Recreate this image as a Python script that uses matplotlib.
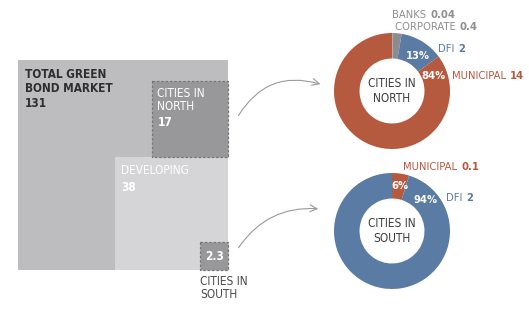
import numpy as np
import matplotlib
matplotlib.use("Agg")
import matplotlib.pyplot as plt
from matplotlib.patches import Rectangle, FancyArrowPatch

plt.rcParams['font.family'] = ['DejaVu Sans']
plt.rcParams['font.stretch'] = 'condensed'

# ---- data ----
market_labels = ["TOTAL GREEN\nBOND MARKET", "DEVELOPING", "CITIES IN\nNORTH", "CITIES IN\nSOUTH"]
market_values = [131, 38, 17, 2.3]

north_labels = ["BANKS", "CORPORATE", "DFI", "MUNICIPAL"]
north_values = [0.04, 0.4, 2, 14]
north_pct = ["", "", "13%", "84%"]

south_labels = ["MUNICIPAL", "DFI"]
south_values = [0.1, 2]
south_pct = ["6%", "94%"]

W, H = 529, 313
fig = plt.figure(figsize=(W / 100, H / 100), dpi=100)

RED = '#b65a3f'
BLUE = '#5a7ba4'
GRAY1 = '#a3a3a5'
GRAY2 = '#8c8c8e'
DARK = '#3c3c3e'


# ---- donuts (drawn first, overlay axes on top) ----
def donut(cx, cy, R, values, colors, center_text):
    a = fig.add_axes([(cx - R) / W, (H - cy - R) / H, 2 * R / W, 2 * R / H])
    a.pie(values, colors=colors, startangle=90, counterclock=False,
          radius=1, wedgeprops=dict(width=0.44, edgecolor='none'))
    a.set_xlim(-1, 1)
    a.set_ylim(-1, 1)
    a.set_aspect('equal')
    a.axis('off')
    a.text(0, 0, center_text, ha='center', va='center', fontsize=8.5, color=DARK, linespacing=1.2)
    return a


R = 58
donut(392, 91, R, north_values, [GRAY1, GRAY2, BLUE, RED], "CITIES IN\nNORTH")
donut(392, 231, R, south_values, [RED, BLUE], "CITIES IN\nSOUTH")

ax = fig.add_axes([0, 0, 1, 1])
ax.set_xlim(0, W)
ax.set_ylim(H, 0)
ax.axis('off')
ax.patch.set_alpha(0)

# ---- nested squares (area proportional) ----
total_side = 210.0
right, bottom = 228.0, 270.0
side = [total_side * np.sqrt(v / market_values[0]) for v in market_values]
s_tot, s_dev, s_nor, s_sou = side

ax.add_patch(Rectangle((right - s_tot, bottom - s_tot), s_tot, s_tot, facecolor='#bdbdbf', edgecolor='none'))
ax.add_patch(Rectangle((right - s_dev, bottom - s_dev), s_dev, s_dev, facecolor='#d5d5d7', edgecolor='none'))
north_top = bottom - s_dev - s_nor
ax.add_patch(Rectangle((right - s_nor, north_top), s_nor, s_nor, facecolor='#98989b',
                       edgecolor='#76767a', linestyle=(0, (2, 1.5)), linewidth=0.9))
ax.add_patch(Rectangle((right - s_sou, bottom - s_sou), s_sou, s_sou, facecolor='#98989b',
                       edgecolor='#76767a', linestyle=(0, (2, 1.5)), linewidth=0.9))

fs = 8.5
# total
x0 = right - s_tot + 7
ax.text(x0, 68, market_labels[0], color='#2e2e30', fontsize=fs, fontweight='bold', va='top', ha='left', linespacing=1.05)
ax.text(x0, 97, f"{market_values[0]:g}", color='#2e2e30', fontsize=fs, fontweight='bold', va='top', ha='left')
# north
xn = right - s_nor + 5
ax.text(xn, 87, market_labels[2], color='white', fontsize=fs, va='top', ha='left', linespacing=1.05)
ax.text(xn, 116, f"{market_values[2]:g}", color='white', fontsize=fs, fontweight='bold', va='top', ha='left')
# developing
xd = right - s_dev + 6
ax.text(xd, 164, market_labels[1], color='white', fontsize=fs, va='top', ha='left')
ax.text(xd, 181, f"{market_values[1]:g}", color='white', fontsize=fs, fontweight='bold', va='top', ha='left')
# south
ax.text(right - s_sou / 2, bottom - s_sou / 2, f"{market_values[3]:g}", color='white', fontsize=fs, fontweight='bold', va='center', ha='center')
ax.text(right - s_sou, 275, market_labels[3], color='#4a4a4c', fontsize=fs, va='top', ha='left', linespacing=1.05)

# ---- arrows ----
for (p0, p1, rad) in [((237, 118), (323, 85), -0.4), ((237, 250), (321, 209), -0.3)]:
    ax.add_patch(FancyArrowPatch(p0, p1, connectionstyle=f"arc3,rad={rad}",
                                 arrowstyle='->,head_length=5,head_width=2.5',
                                 color='#9a9a9c', linewidth=0.8, mutation_scale=1))

# percent labels (white)
pfs = 8
ax.text(418, 56, north_pct[2], color='white', fontsize=pfs, fontweight='bold', ha='center', va='center')
ax.text(434, 76, north_pct[3], color='white', fontsize=pfs, fontweight='bold', ha='center', va='center')
ax.text(400, 186, south_pct[0], color='white', fontsize=pfs, fontweight='bold', ha='center', va='center')
ax.text(426, 200, south_pct[1], color='white', fontsize=pfs, fontweight='bold', ha='center', va='center')


# outside labels
def lab(x, y, name, val, color):
    t = ax.text(x, y, name + " ", color=color, fontsize=pfs, ha='left', va='center')
    fig.canvas.draw()
    bb = t.get_window_extent()
    xr = ax.transData.inverted().transform((bb.x1, bb.y0))[0]
    ax.text(xr + 1, y, f"{val:g}", color=color, fontsize=pfs, fontweight='bold', ha='left', va='center')


lab(392, 15.5, north_labels[0], north_values[0], '#8e8e90')
lab(395, 27.5, north_labels[1], north_values[1], '#8e8e90')
lab(438, 49, north_labels[2], north_values[2], BLUE)
lab(452, 76, north_labels[3], north_values[3], RED)
lab(403, 167, south_labels[0], south_values[0], RED)
lab(446, 198, south_labels[1], south_values[1], BLUE)

fig.savefig("out.png", dpi=100)
